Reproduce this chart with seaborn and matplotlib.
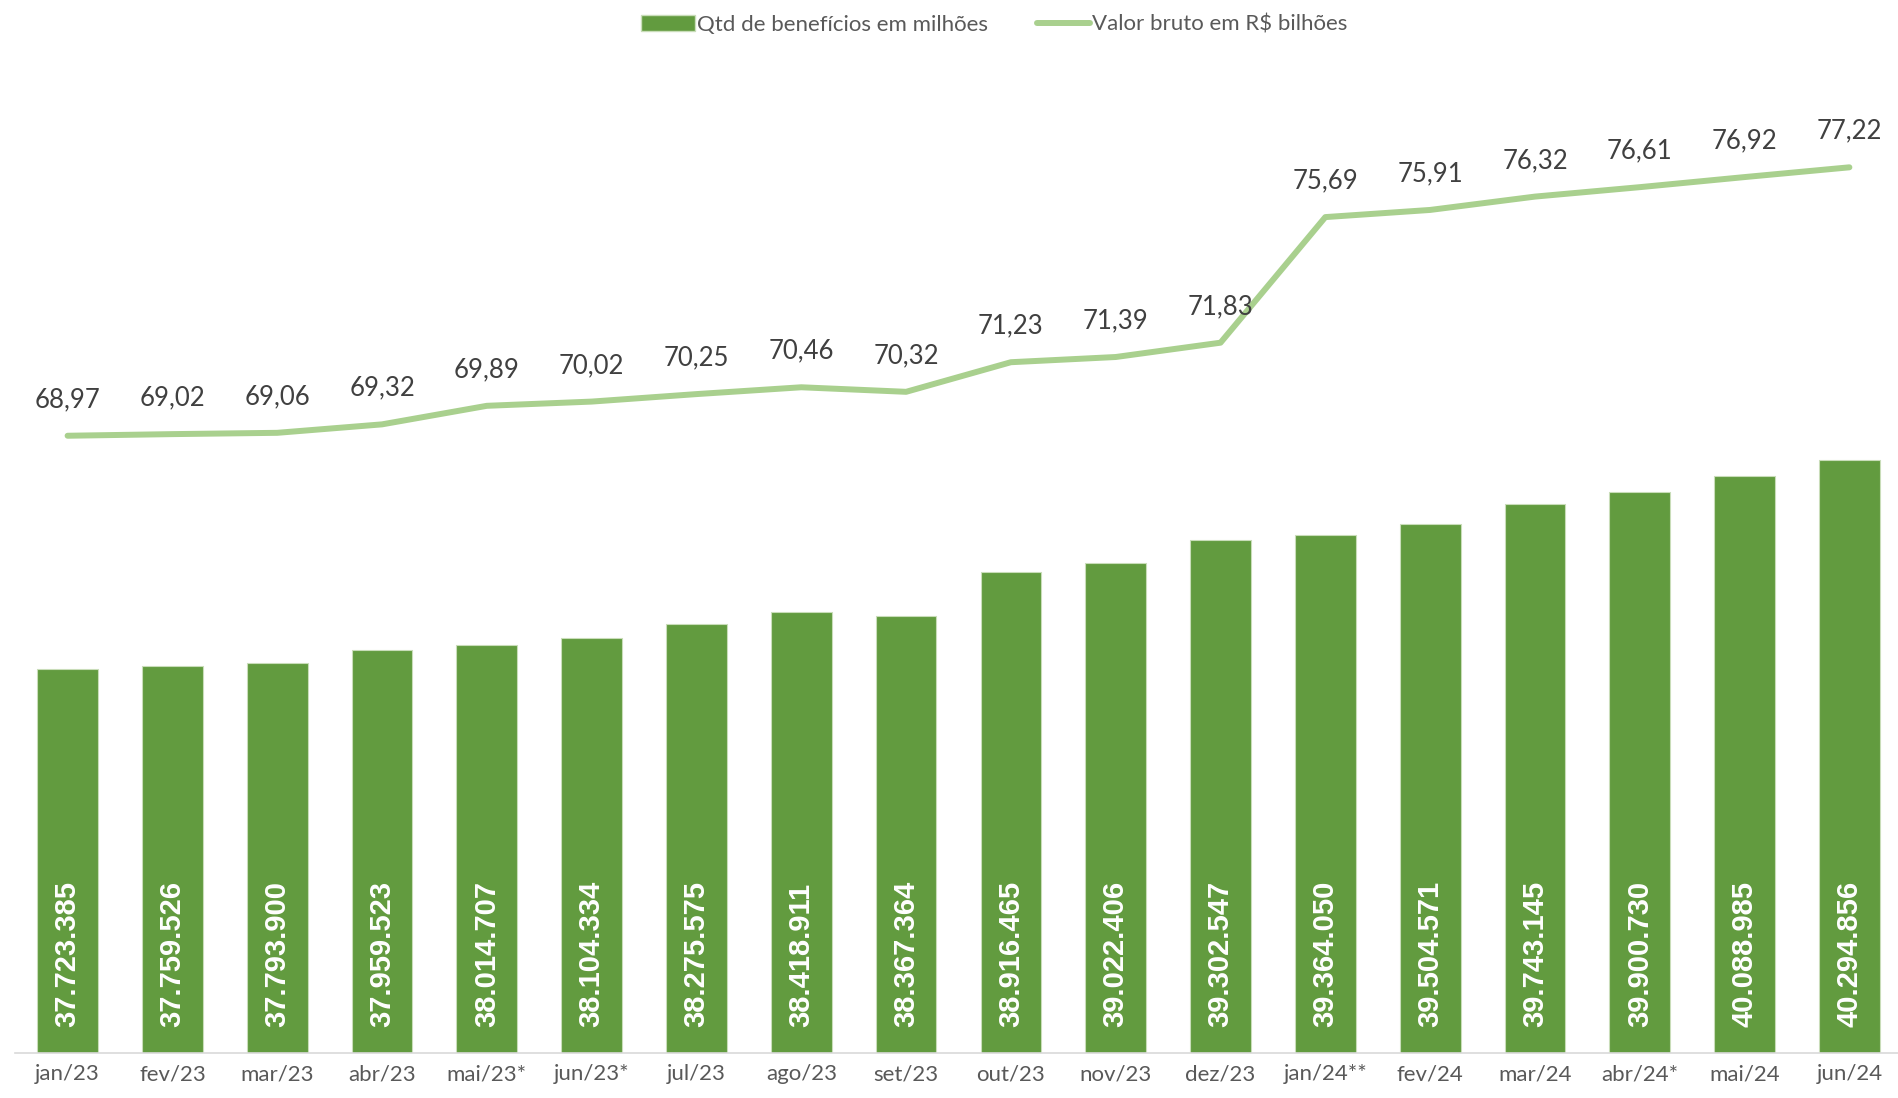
import numpy as np
import pandas as pd
import matplotlib
matplotlib.use("Agg")
import matplotlib.pyplot as plt
from matplotlib.patches import Patch
from matplotlib.lines import Line2D
import seaborn as sns

# data
meses = ["jan/23", "fev/23", "mar/23", "abr/23", "mai/23*", "jun/23*", "jul/23",
         "ago/23", "set/23", "out/23", "nov/23", "dez/23", "jan/24**", "fev/24",
         "mar/24", "abr/24*", "mai/24", "jun/24"]
qtd_beneficios = [37723385, 37759526, 37793900, 37959523, 38014707, 38104334,
                  38275575, 38418911, 38367364, 38916465, 39022406, 39302547,
                  39364050, 39504571, 39743145, 39900730, 40088985, 40294856]
valor_bruto = [68.97, 69.02, 69.06, 69.32, 69.89, 70.02, 70.25, 70.46, 70.32,
               71.23, 71.39, 71.83, 75.69, 75.91, 76.32, 76.61, 76.92, 77.22]

BAR_COLOR = "#629B3F"
LINE_COLOR = "#A9D08E"
TEXT_GRAY = "#404040"
TICK_GRAY = "#595959"

sns.set_theme(style="white")
plt.rcParams["font.family"] = ["Lato", "DejaVu Sans"]

df = pd.DataFrame({"mes": meses, "qtd": qtd_beneficios,
                   "valor": valor_bruto, "pos": np.arange(len(meses))})

fig = plt.figure(figsize=(18.98, 10.98), dpi=100)
ax = fig.add_axes([0.008, 0.041, 0.994, 0.889])

sns.barplot(data=df, x="mes", y="qtd", ax=ax, color=BAR_COLOR, width=0.58,
            saturation=1, edgecolor="#C9DDB9", linewidth=0.8)
ax.set_ylim(33_000_000, 45_000_000)
ax.set_xlim(-0.5, len(meses) - 0.5)

# bar labels, white, rotated, near the base
for i, v in enumerate(qtd_beneficios):
    txt = f"{v:,}".replace(",", ".")
    ax.annotate(txt, (i, 33_000_000), xytext=(0, 19), textcoords="offset points",
                rotation=90, ha="center", va="bottom", color="white",
                fontsize=21, fontweight="bold", family="Liberation Sans")

ax2 = ax.twinx()
sns.lineplot(data=df, x="pos", y="valor", ax=ax2, color=LINE_COLOR,
             linewidth=4.3, legend=False)
ax2.set_ylim(50, 80)
ax2.set_xlim(-0.5, len(meses) - 0.5)

for i, v in enumerate(valor_bruto):
    ax2.annotate(f"{v:.2f}".replace(".", ","), (i, v), xytext=(0, 26),
                 textcoords="offset points", ha="center", va="center",
                 color=TEXT_GRAY, fontsize=18.5)

for a in (ax, ax2):
    a.set_xlabel("")
    a.set_ylabel("")
    a.set_yticks([])
    for s in ["top", "left", "right"]:
        a.spines[s].set_visible(False)
ax.spines["bottom"].set_color("#D9D9D9")
ax.spines["bottom"].set_linewidth(1.2)
ax2.spines["bottom"].set_visible(False)

ax.set_xticks(range(len(meses)))
ax.set_xticklabels(meses, fontsize=16, color=TICK_GRAY)
ax.tick_params(axis="x", length=0, pad=8)

handles = [Patch(facecolor=BAR_COLOR, edgecolor="#C9DDB9"),
           Line2D([0], [0], color=LINE_COLOR, linewidth=4.3)]
fig.legend(handles, ["Qtd de benefícios em milhões", "Valor bruto em R$ bilhões"],
           loc="upper center", bbox_to_anchor=(0.524, 1.005), ncol=2, frameon=False,
           fontsize=16, labelcolor=TICK_GRAY, handlelength=2.4, handletextpad=0.1,
           columnspacing=2.2)

fig.savefig("out.png", dpi=100)
